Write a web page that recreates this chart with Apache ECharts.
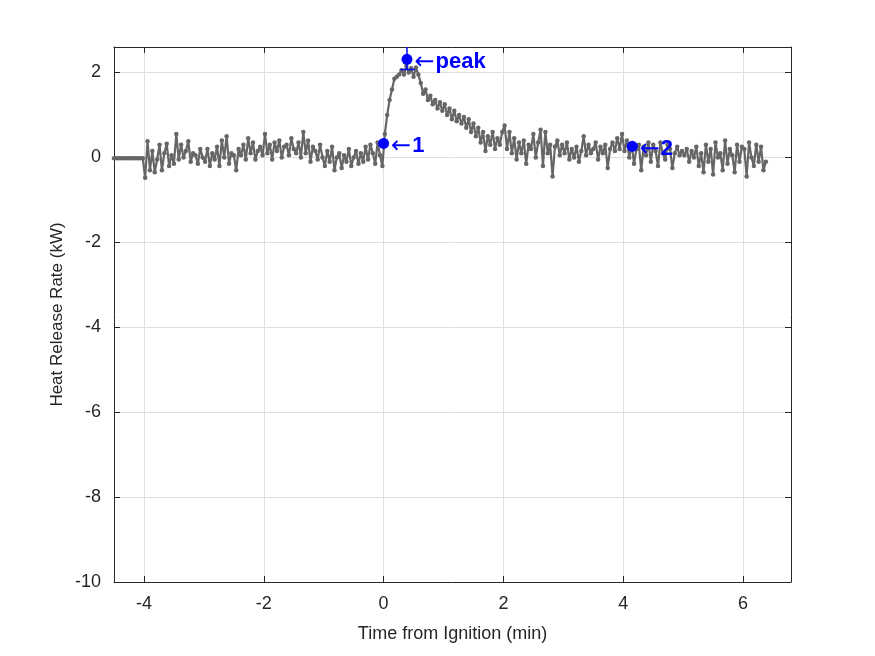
<!DOCTYPE html>
<html>
<head>
<meta charset="utf-8">
<script src="https://cdn.jsdelivr.net/npm/echarts@6/dist/echarts.min.js"></script>
<style>
  html, body { margin: 0; padding: 0; background: #fff; }
  #main { width: 875px; height: 656px; }
</style>
</head>
<body>
<div id="main"></div>
<script>
// time base of the record (min), one sample every 0.04 min
var tStart = -4.5;
var tStep = 0.04;

// heat release rate samples (kW)
var hrr = [
  // -4.50 .. -4.02 (flat before the burner starts)
  -0.02, -0.02, -0.02, -0.02, -0.02, -0.02, -0.02, -0.02, -0.02, -0.02, -0.02, -0.02, -0.02,
  // -3.98 .. -3.02
  -0.48, 0.38, -0.3, 0.15, -0.35, -0.05, 0.3, -0.3, 0.1, 0.32, -0.2, 0.05, -0.15, 0.55, -0.05, 0.3, 0.0, 0.15, 0.38, -0.1, 0.1, 0.05, -0.15, 0.2, 0.0,
  // -2.98 .. -2.02
  -0.1, 0.2, -0.2, 0.1, -0.05, 0.25, -0.2, 0.4, 0.0, 0.5, -0.15, 0.1, 0.05, -0.3, 0.2, 0.05, 0.3, -0.05, 0.45, 0.1, 0.35, -0.05, 0.15, 0.25, 0.05,
  // -1.98 .. -1.02
  0.55, 0.1, 0.3, -0.05, 0.35, 0.15, 0.4, 0.0, 0.25, 0.3, 0.05, 0.45, 0.2, 0.1, 0.35, 0.0, 0.6, 0.1, 0.4, -0.1, 0.25, 0.15, -0.05, 0.3, 0.0,
  // -0.98 .. -0.02
  -0.2, 0.15, -0.1, 0.25, -0.3, 0.0, 0.1, -0.25, 0.05, -0.1, 0.2, -0.2, 0.0, 0.15, -0.15, 0.1, -0.1, 0.25, -0.05, 0.3, 0.1, -0.15, 0.35, 0.05, -0.2,
  // 0.02 .. 0.98
  0.55, 1.0, 1.35, 1.6, 1.85, 1.9, 1.95, 2.05, 1.95, 2.15, 2.0, 2.1, 1.9, 2.12, 1.95, 1.75, 1.5, 1.6, 1.35, 1.45, 1.25, 1.35, 1.15, 1.3, 1.1,
  // 1.02 .. 1.98
  1.25, 1.0, 1.15, 0.9, 1.1, 0.85, 1.0, 0.8, 0.95, 0.7, 0.9, 0.6, 0.8, 0.5, 0.7, 0.35, 0.6, 0.15, 0.5, 0.3, 0.6, 0.2, 0.45, 0.3, 0.6,
  // 2.02 .. 2.98
  0.75, 0.2, 0.6, 0.1, 0.45, -0.05, 0.35, 0.1, 0.4, -0.15, 0.3, 0.2, 0.55, 0.0, 0.35, 0.65, -0.2, 0.6, 0.1, 0.3, -0.45, 0.25, 0.4, 0.05, 0.3,
  // 3.02 .. 3.98
  0.1, 0.35, -0.05, 0.2, 0.0, 0.25, -0.1, 0.15, 0.5, 0.05, 0.3, 0.1, 0.2, 0.35, -0.05, 0.25, 0.1, 0.3, -0.25, 0.2, 0.35, 0.15, 0.45, 0.2, 0.55,
  // 4.02 .. 4.98
  0.15, 0.4, 0.0, 0.3, -0.15, 0.2, 0.3, -0.3, 0.25, 0.05, 0.35, -0.1, 0.3, 0.15, -0.2, 0.35, 0.1, -0.05, 0.3, 0.2, -0.25, 0.1, 0.25, 0.05, 0.15,
  // 5.02 .. 5.98
  0.05, 0.2, -0.1, 0.15, 0.0, 0.25, -0.2, 0.1, -0.35, 0.3, -0.1, 0.2, -0.4, 0.35, 0.0, 0.1, -0.3, 0.4, -0.15, 0.2, 0.05, -0.35, 0.3, -0.1, 0.25,
  // 6.02 .. 6.38
  0.2, -0.45, 0.35, 0.0, -0.2, 0.3, -0.1, 0.25, -0.3, -0.1
];

// annotated points [time, hrr, label]
var marks = [
  [0.0, 0.33, '1'],
  [0.39, 2.31, 'peak'],
  [4.15, 0.26, '2']
];
// the little stem under the peak marker
var peakStem = [[0.39, 2.07], [0.39, 2.6]];
var peakBar = [[0.28, 2.07], [0.52, 2.07]];

var xTicks = { min: -4.5, max: 6.8 };
var yTicks = { min: -10, max: 2.6, step: 2 };

var series = [];
for (var i = 0; i < hrr.length; i++) {
  series.push([+(tStart + i * tStep).toFixed(2), hrr[i]]);
}

var axisColor = '#262626';
var gridColor = '#e0e0e0';
var blue = '#0000ff';

var myChart = echarts.init(document.getElementById('main'));

option = {
  backgroundColor: '#fff',
  animation: false,
  grid: {
    left: 114,
    right: 84,
    top: 47,
    bottom: 74
  },
  xAxis: [{
    type: 'value',
    min: xTicks.min,
    max: xTicks.max,
    position: 'bottom',
    name: 'Time from Ignition (min)',
    nameLocation: 'middle',
    nameGap: 43,
    nameTextStyle: { color: axisColor, fontSize: 18, fontFamily: 'Liberation Sans' },
    axisLine: { onZero: false, lineStyle: { color: axisColor, width: 1 } },
    axisTick: { inside: true, length: 6, lineStyle: { color: axisColor } },
    axisLabel: {
      color: axisColor, fontSize: 18, fontFamily: 'Liberation Sans', margin: 13,
      showMinLabel: false, showMaxLabel: false
    },
    splitLine: { show: true, lineStyle: { color: gridColor, width: 1 } }
  }, {
    type: 'value',
    min: xTicks.min,
    max: xTicks.max,
    position: 'top',
    axisLine: { onZero: false, lineStyle: { color: axisColor, width: 1 } },
    axisTick: { inside: true, length: 6, lineStyle: { color: axisColor } },
    axisLabel: { show: false },
    splitLine: { show: false }
  }],
  yAxis: [{
    type: 'value',
    min: yTicks.min,
    max: yTicks.max,
    interval: yTicks.step,
    position: 'left',
    name: 'Heat Release Rate (kW)',
    nameLocation: 'middle',
    nameGap: 48,
    nameMoveOverlap: false,
    nameRotate: 90,
    nameTextStyle: { color: axisColor, fontSize: 17, fontFamily: 'Liberation Sans' },
    axisLine: { onZero: false, lineStyle: { color: axisColor, width: 1 } },
    axisTick: { inside: true, length: 6, lineStyle: { color: axisColor } },
    axisLabel: {
      color: axisColor, fontSize: 18, fontFamily: 'Liberation Sans', margin: 13,
      showMaxLabel: false
    },
    splitLine: { show: true, lineStyle: { color: gridColor, width: 1 } }
  }, {
    type: 'value',
    min: yTicks.min,
    max: yTicks.max,
    interval: yTicks.step,
    position: 'right',
    axisLine: { onZero: false, lineStyle: { color: axisColor, width: 1 } },
    axisTick: { inside: true, length: 6, lineStyle: { color: axisColor } },
    axisLabel: { show: false },
    splitLine: { show: false }
  }],
  series: [{
    type: 'line',
    data: series,
    symbol: 'circle',
    symbolSize: 4.5,
    showSymbol: true,
    showAllSymbol: true,
    lineStyle: { color: '#666666', width: 2.2 },
    itemStyle: { color: '#666666' },
    z: 2
  }, {
    type: 'line',
    data: peakStem,
    symbol: 'none',
    lineStyle: { color: blue, width: 1.5 },
    z: 3
  }, {
    type: 'line',
    data: peakBar,
    symbol: 'none',
    lineStyle: { color: blue, width: 1.5 },
    z: 3
  }, {
    type: 'scatter',
    data: marks.map(function (m) { return { value: [m[0], m[1]], name: m[2] }; }),
    symbol: 'circle',
    symbolSize: 11,
    itemStyle: { color: blue, opacity: 1 },
    label: {
      show: true,
      position: 'right',
      distance: 2,
      offset: [0, 3],
      formatter: function (p) { return '{a|\u2190}{b|' + p.name + '}'; },
      rich: {
        a: { color: blue, fontSize: 24, fontFamily: 'DejaVu Sans', fontWeight: 'normal', padding: [0, 1, 0, 0] },
        b: { color: blue, fontSize: 22, fontFamily: 'Liberation Sans', fontWeight: 'bold' }
      }
    },
    emphasis: { disabled: true },
    z: 4
  }]
};

myChart.setOption(option);
</script>
</body>
</html>
